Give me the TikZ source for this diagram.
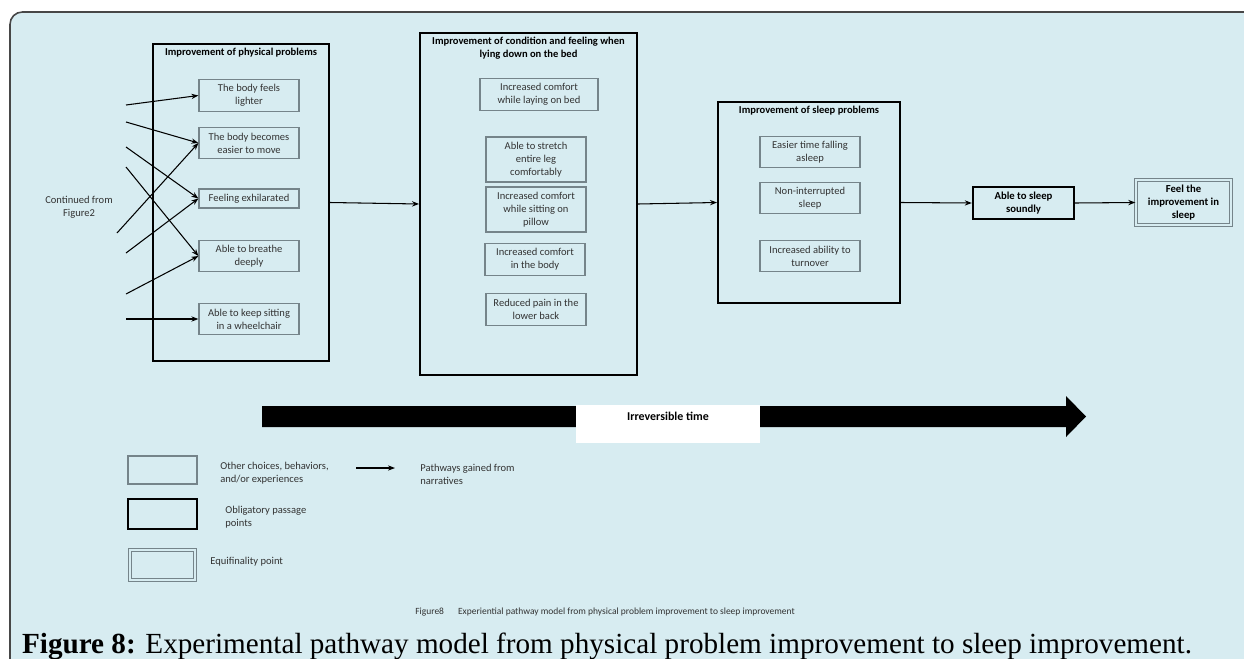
\documentclass[tikz,border=0pt]{standalone}
\usepackage{fontspec}
\setmainfont{Carlito}
\newfontfamily\capfont{Liberation Serif}
\usetikzlibrary{positioning,arrows.meta}
\definecolor{panelblue}{HTML}{D7ECF1}
\definecolor{panelrim}{HTML}{474747}
\definecolor{boxgray}{HTML}{75848A}

\begin{document}
\begin{tikzpicture}[x=0.02cm,y=-0.02cm,
	every node/.style={font=\fontsize{6}{7.4}\selectfont, inner sep=0pt},
	thinbox/.style={draw=boxgray, line width=0.7pt, minimum width=2cm, minimum height=0.63cm, align=center, text=black!80},
	stagebox/.style={draw=black, line width=1.1pt},
	oppbox/.style={draw=black, line width=1.4pt, align=center, font=\fontsize{6.1}{7.4}\selectfont\bfseries},
	efpbox/.style={draw=boxgray, line width=0.8pt, double=panelblue, double distance=1.2pt, align=center, font=\fontsize{6.1}{7.4}\selectfont\bfseries},
	title/.style={font=\fontsize{6}{7.4}\selectfont\bfseries, align=center},
	path/.style={-{Stealth[length=4pt,width=3pt]}, line width=0.6pt}]
	\useasboundingbox (0,0) rectangle (1244,659);
	
	% 背景面板，右下角超出画面
	\begin{scope}
		\clip (0,0) rectangle (1244,659);
		\fill[white] (0,0) rectangle (1244,659);
		\draw[panelrim, fill=panelblue, line width=0.9pt, rounded corners=7pt] (10,12) rectangle (1280,700);
	\end{scope}
	
	% 三个阶段大框
	\node[stagebox, minimum width=3.52cm, minimum height=6.34cm] (phys) at (241,202.5) {};
	\node[stagebox, minimum width=4.34cm, minimum height=6.84cm] (bed) at (528.5,204) {};
	\node[stagebox, minimum width=3.64cm, minimum height=4.02cm] (sleep) at (809,202.5) {};
	\node[title, below=2.6pt of phys.north] (physT) {Improvement of physical problems};
	\node[title, below=2.6pt of bed.north] (bedT) {Improvement of condition and feeling when\\lying down on the bed};
	\node[title, below=2.6pt of sleep.north] (sleepT) {Improvement of sleep problems};
	
	% 身体问题的改善
	\node[thinbox] (lighter) at (249,95.5) {The body feels\\lighter};
	\node[thinbox] (easier) at (249,143) {The body becomes\\easier to move};
	\node[thinbox, minimum height=0.38cm] (exhil) at (249,198.5) {Feeling exhilarated};
	\node[thinbox] (breathe) at (249,256) {Able to breathe\\deeply};
	\node[thinbox] (wheel) at (249,319) {Able to keep sitting\\in a wheelchair};
	
	% 躺在床上时的状态
	\node[thinbox, minimum width=2.36cm] (laying) at (539,94.5) {Increased comfort\\while laying on bed};
	\node[thinbox, minimum height=0.9cm] (stretch) at (536,159.5) {Able to stretch\\entire leg\\comfortably};
	\node[thinbox, minimum height=0.9cm] (pillow) at (536,209.5) {Increased comfort\\while sitting on\\pillow};
	\node[thinbox] (comfort) at (535,259.5) {Increased comfort\\in the body};
	\node[thinbox] (back) at (536,309.5) {Reduced pain in the\\lower back};
	
	% 睡眠问题的改善
	\node[thinbox] (falling) at (810,152) {Easier time falling\\asleep};
	\node[thinbox] (nonint) at (810,198) {Non-interrupted\\sleep};
	\node[thinbox] (turn) at (810,256) {Increased ability to\\turnover};
	
	% 必经点与等至点
	\node[oppbox, minimum width=2.02cm, minimum height=0.64cm] (sound) at (1023.5,203) {Able to sleep\\soundly};
	\node[efpbox, minimum width=1.9cm, minimum height=0.9cm] (feel) at (1183.5,202.5) {Feel the\\improvement in\\sleep};
	
	% 左侧来自图2的路径
	\node[align=center, text=black!80] (cont) at (79,207) {Continued from\\Figure2};
	\foreach \i/\xx/\yy in {1/126/105, 2/126/122, 3/126/147, 4/126/167, 5/117/233, 6/126/253, 7/126/294, 8/126/319}
		\coordinate (in\i) at (\xx,\yy);
	\foreach \i/\t in {1/lighter, 2/easier, 3/exhil, 4/breathe, 5/easier, 6/exhil, 7/breathe, 8/wheel}
		\draw[path] (in\i) -- (\t.west);
	
	% 主干路径
	\draw[path] (phys.east) -- (bed.west);
	\draw[path] (bed.east) -- (sleep.west);
	\draw[path] (sleep.east) -- (sound.west);
	\draw[path] (sound.east) -- (feel.west);
	
	% 不可逆时间箭头
	\fill (262,406) -- (1066,406) -- (1066,396) -- (1086,416.5) -- (1066,437) -- (1066,427) -- (262,427) -- cycle;
	\node[fill=white, minimum width=3.68cm, minimum height=0.76cm] (timebox) at (668,424) {};
	\node[title, font=\fontsize{6.8}{8}\selectfont\bfseries] (timeT) at (668,416) {Irreversible time};
	
	% 图例
	\node[draw=boxgray, line width=0.7pt, minimum width=1.38cm, minimum height=0.56cm] (lgOther) at (162.5,470) {};
	\node[draw=black, line width=1.4pt, minimum width=1.38cm, minimum height=0.6cm] (lgOpp) at (162.5,514) {};
	\node[draw=boxgray, line width=0.8pt, double=panelblue, double distance=1.2pt, minimum width=1.3cm, minimum height=0.6cm] (lgEfp) at (162.5,565) {};
	\node[anchor=west, align=left, text=black!80] (lgOtherT) at (220,473.5) {Other choices, behaviors,\\and/or experiences};
	\node[anchor=west, align=left, text=black!80] (lgOppT) at (225,517.5) {Obligatory passage\\points};
	\node[anchor=west, text=black!80] (lgEfpT) at (210,562) {Equifinality point};
	\coordinate (lgA) at (356,468);
	\coordinate (lgB) at (395,468);
	\draw[path] (lgA) -- (lgB);
	\node[anchor=west, align=left, text=black!80] (lgPathT) at (420,474.5) {Pathways gained from\\narratives};
	
	% 图题
	\node[anchor=west, text=black!80, font=\fontsize{5.4}{6.5}\selectfont] (figsmall) at (415,612) {Figure8\hspace{8pt}Experiential pathway model from physical problem improvement to sleep improvement};
	\node[anchor=base, font=\capfont\fontsize{16.6}{19}\selectfont] (figcap) at (607,653) {\textbf{Figure 8:} Experimental pathway model from physical problem improvement to sleep improvement.};
\end{tikzpicture}
\end{document}
